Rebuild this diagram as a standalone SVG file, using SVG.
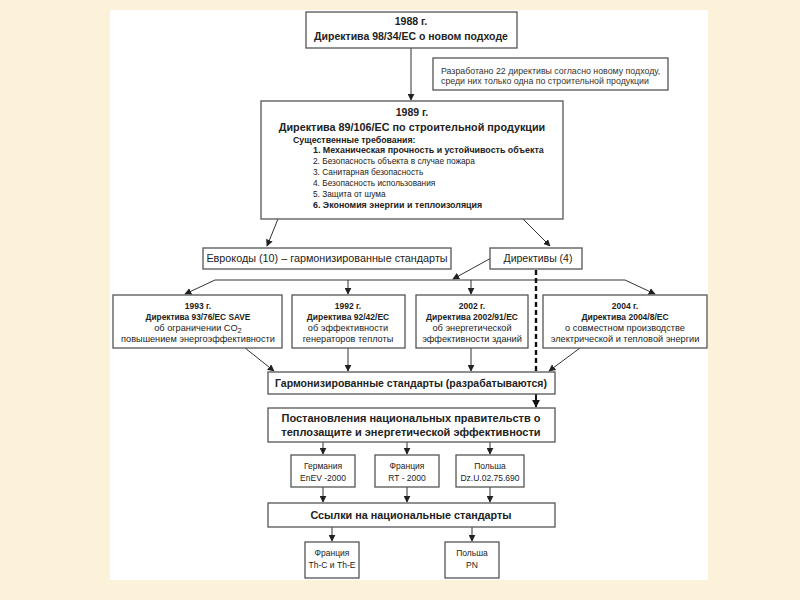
<svg xmlns="http://www.w3.org/2000/svg" width="800" height="600" viewBox="0 0 800 600">
<defs>
<marker id="ah" viewBox="0 0 10 10" refX="9" refY="5" markerWidth="7" markerHeight="7" markerUnits="userSpaceOnUse" orient="auto">
<path d="M0,0 L10,5 L0,10 z" fill="#222"/>
</marker>
<marker id="ahb" viewBox="0 0 10 10" refX="9" refY="5" markerWidth="8" markerHeight="8" markerUnits="userSpaceOnUse" orient="auto">
<path d="M0,0 L10,5 L0,10 z" fill="#111"/>
</marker>
<style>
.box{fill:#fff;stroke:#555;stroke-width:1.3}
.t{font-family:"Liberation Sans",Arial,sans-serif;fill:#222;text-anchor:middle}
.b{font-weight:bold}
.c{stroke:#333;stroke-width:1;fill:none;marker-end:url(#ah)}
</style>
</defs>
<rect x="0" y="0" width="800" height="600" fill="#fcf1d9"/>
<rect x="110" y="10" width="598" height="570" fill="#fff"/>

<g id="connectors">
<path class="c" d="M411,48 L411,100"/>
<path class="c" d="M278,219 L267,246"/>
<path class="c" d="M523,219 L550,246"/>
<path class="c" d="M493,257 L453,279"/>
<path d="M215,280 L625,280" stroke="#333" stroke-width="1" fill="none"/>
<path class="c" d="M215,280 L185,294"/>
<path class="c" d="M625,280 L655,294"/>
<path class="c" d="M348,280 L348,294"/>
<path class="c" d="M471,280 L471,294"/>
<path d="M536,270 L536,371" stroke="#111" stroke-width="2.4" stroke-dasharray="5,3" fill="none"/>
<path class="c" d="M245,348 L274,371"/>
<path class="c" d="M348,348 L348,371"/>
<path class="c" d="M471,348 L471,371"/>
<path class="c" d="M580,348 L549,371"/>
<path d="M536,394 L536,407" stroke="#111" stroke-width="2" fill="none" marker-end="url(#ahb)"/>
<path class="c" d="M323,442 L323,454"/>
<path class="c" d="M407,442 L407,454"/>
<path class="c" d="M490,442 L490,454"/>
<path class="c" d="M323,487 L323,502"/>
<path class="c" d="M407,487 L407,502"/>
<path class="c" d="M490,487 L490,502"/>
<path class="c" d="M332,527 L332,541"/>
<path class="c" d="M472,527 L472,541"/>
</g>

<g id="n1988">
<rect class="box" x="306" y="12" width="211" height="36"/>
<text class="t b" x="411" y="25" font-size="10.5">1988 г.</text>
<text class="t b" x="411" y="40" font-size="10.5">Директива 98/34/ЕС о новом подходе</text>
</g>

<g id="note">
<rect class="box" x="433" y="58" width="235" height="32"/>
<text class="t" x="441" y="74" font-size="8.8" style="text-anchor:start;fill:#333">Разработано 22 директивы согласно новому подходу,</text>
<text class="t" x="441" y="84" font-size="8.8" style="text-anchor:start;fill:#333">среди них только одна по строительной продукции</text>
</g>

<g id="n1989">
<rect class="box" x="261" y="101" width="302" height="118"/>
<text class="t b" x="412" y="116" font-size="10.5">1989 г.</text>
<text class="t b" x="412" y="131" font-size="10.8">Директива 89/106/ЕС по строительной продукции</text>
<g class="t" style="text-anchor:start">
<text x="293" y="143" font-size="8.8" font-weight="bold">Существенные требования:</text>
<text x="313" y="153" font-size="8.9" font-weight="bold">1. Механическая прочность и устойчивость объекта</text>
<text x="313" y="164" font-size="8.3">2. Безопасность объекта в случае пожара</text>
<text x="313" y="175" font-size="8.3">3. Санитарная безопасность</text>
<text x="313" y="186" font-size="8.3">4. Безопасность использования</text>
<text x="313" y="197" font-size="8.3">5. Защита от шума</text>
<text x="313" y="208" font-size="8.9" font-weight="bold">6. Экономия энергии и теплоизоляция</text>
</g>
</g>

<g id="eurocodes">
<rect class="box" x="203" y="248" width="248" height="21"/>
<text class="t" x="327" y="262" font-size="10.8">Еврокоды (10) – гармонизированные стандарты</text>
</g>

<g id="directives">
<rect class="box" x="490" y="248" width="92" height="21"/>
<text class="t" x="538" y="262" font-size="10.5">Директивы (4)</text>
</g>

<g id="d1993">
<rect class="box" x="113" y="295" width="169" height="53"/>
<text class="t b" x="198" y="309" font-size="8.5">1993 г.</text>
<text class="t b" x="198" y="320" font-size="8.3">Директива 93/76/EC SAVE</text>
<text class="t" x="198" y="331" font-size="9.2">об ограничении CO<tspan font-size="7.5" dy="2">2</tspan></text>
<text class="t" x="198" y="342" font-size="9.2">повышением энергоэффективности</text>
</g>

<g id="d1992">
<rect class="box" x="292" y="295" width="113" height="53"/>
<text class="t b" x="348" y="309" font-size="8.5">1992 г.</text>
<text class="t b" x="348" y="320" font-size="8.5">Директива 92/42/ЕС</text>
<text class="t" x="348" y="331" font-size="9.2">об эффективности</text>
<text class="t" x="348" y="342" font-size="9.2">генераторов теплоты</text>
</g>

<g id="d2002">
<rect class="box" x="416" y="295" width="112" height="53"/>
<text class="t b" x="472" y="309" font-size="8.5">2002 г.</text>
<text class="t b" x="472" y="320" font-size="8.5">Директива 2002/91/ЕС</text>
<text class="t" x="472" y="331" font-size="9.2">об энергетической</text>
<text class="t" x="472" y="342" font-size="9.2">эффективности зданий</text>
</g>

<g id="d2004">
<rect class="box" x="543" y="295" width="164" height="53"/>
<text class="t b" x="625" y="309" font-size="8.5">2004 г.</text>
<text class="t b" x="625" y="320" font-size="8.5">Директива 2004/8/ЕС</text>
<text class="t" x="625" y="331" font-size="9.2">о совместном производстве</text>
<text class="t" x="625" y="342" font-size="9.2">электрической и тепловой энергии</text>
</g>

<g id="harmonized">
<rect class="box" x="268" y="372" width="287" height="22"/>
<text class="t b" x="411" y="387" font-size="10.5">Гармонизированные стандарты (разрабатываются)</text>
</g>

<g id="national">
<rect class="box" x="268" y="408" width="287" height="34"/>
<text class="t b" x="411" y="422" font-size="11">Постановления национальных правительств о</text>
<text class="t b" x="411" y="436" font-size="11">теплозащите и энергетической эффективности</text>
</g>

<g id="germany">
<rect class="box" x="291" y="455" width="64" height="32"/>
<text class="t" x="323" y="469" font-size="8.5">Германия</text>
<text class="t" x="323" y="481" font-size="8.5">EnEV -2000</text>
</g>

<g id="france1">
<rect class="box" x="375" y="455" width="64" height="32"/>
<text class="t" x="407" y="469" font-size="8.5">Франция</text>
<text class="t" x="407" y="481" font-size="8.5">RT - 2000</text>
</g>

<g id="poland1">
<rect class="box" x="456" y="455" width="68" height="32"/>
<text class="t" x="490" y="469" font-size="8.5">Польша</text>
<text class="t" x="490" y="481" font-size="8.5">Dz.U.02.75.690</text>
</g>

<g id="links">
<rect class="box" x="268" y="503" width="287" height="24"/>
<text class="t b" x="411" y="519" font-size="10.8">Ссылки на национальные стандарты</text>
</g>

<g id="france2">
<rect class="box" x="305" y="542" width="54" height="36"/>
<text class="t" x="332" y="556" font-size="8.5">Франция</text>
<text class="t" x="332" y="568" font-size="8.5">Th-C и Th-E</text>
</g>

<g id="poland2">
<rect class="box" x="445" y="542" width="54" height="36"/>
<text class="t" x="472" y="556" font-size="8.5">Польша</text>
<text class="t" x="472" y="568" font-size="8.5">PN</text>
</g>
</svg>
